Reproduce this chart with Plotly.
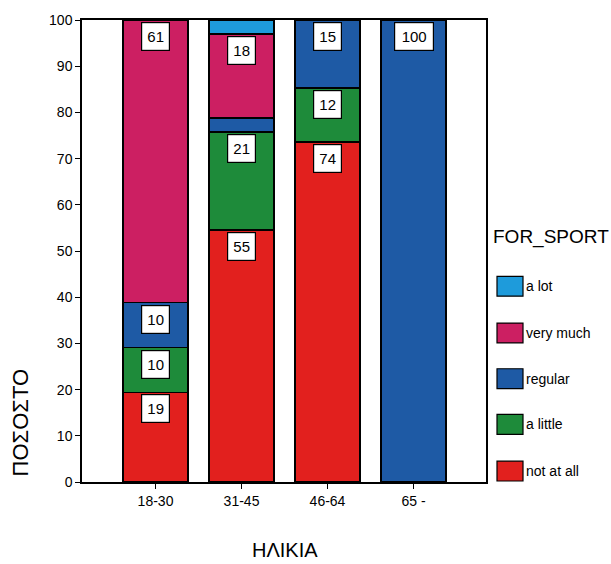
import plotly.graph_objects as go

categories = ["18-30", "31-45", "46-64", "65 -"]
series_names = ["not at all", "a little", "regular", "very much", "a lot"]
not_at_all = [19.4, 54.6, 73.6, 0]
a_little = [9.7, 21.2, 11.7, 0]
regular = [9.7, 3.0, 14.7, 100]
very_much = [61.2, 18.2, 0, 0]
a_lot = [0, 3.0, 0, 0]
series_values = [not_at_all, a_little, regular, very_much, a_lot]
colors = ["#E2201E", "#1E8B3A", "#1E5AA5", "#CC1F62", "#1E9BDB"]
y_ticks = [0, 10, 20, 30, 40, 50, 60, 70, 80, 90, 100]

FONT = "Liberation Sans, Arial, sans-serif"
W, H = 611, 564
ML, MR, MT, MB = 82, 125, 17, 82
PW, PH = W - ML - MR, H - MT - MB


def px_x(px):
    return (px - ML) / PW


def px_y(py):
    return (H - MB - py) / PH


fig = go.Figure()
for name, vals, col in zip(series_names, series_values, colors):
    fig.add_trace(go.Bar(
        x=categories, y=vals, name=name,
        marker=dict(color=col, line=dict(color="black", width=1.5)),
        hoverinfo="x+y+name",
    ))

annotations = []
# value labels in white boxes at top of each segment
cum = [0.0] * len(categories)
for vals in series_values:
    for i, v in enumerate(vals):
        cum[i] += v
        if v >= 5:
            txt = str(int(round(v)))
            annotations.append(dict(
                x=categories[i], y=cum[i], xref="x", yref="y",
                text=txt, showarrow=False, xanchor="center", yanchor="top",
                yshift=-2,
                font=dict(family=FONT, size=15, color="black"),
                bgcolor="white", bordercolor="black", borderwidth=1.2,
                borderpad=1, width=11 * len(txt) + 3, height=25,
            ))

# axis titles
annotations.append(dict(
    x=px_x(20), y=px_y(423), xref="paper", yref="paper",
    text="ΠΟΣΟΣΤΟ", textangle=-90, showarrow=False,
    xanchor="center", yanchor="middle",
    font=dict(family=FONT, size=22, color="black"),
))
annotations.append(dict(
    x=px_x(285), y=px_y(550), xref="paper", yref="paper",
    text="ΗΛΙΚΙΑ", showarrow=False, xanchor="center", yanchor="middle",
    font=dict(family=FONT, size=20, color="black"),
))

# legend (custom, larger swatches)
annotations.append(dict(
    x=px_x(491), y=px_y(235), xref="paper", yref="paper",
    text="FOR_SPORT", showarrow=False, xanchor="left", yanchor="middle",
    font=dict(family=FONT, size=19, color="black"),
))
shapes = []
legend_centers = [471, 424, 378, 332, 285]
for name, col, cy in zip(series_names, colors, legend_centers):
    shapes.append(dict(
        type="rect", xref="paper", yref="paper",
        x0=px_x(497), x1=px_x(523), y0=px_y(cy + 10), y1=px_y(cy - 10),
        fillcolor=col, line=dict(color="black", width=1.2),
    ))
    annotations.append(dict(
        x=px_x(524), y=px_y(cy), xref="paper", yref="paper",
        text=name, showarrow=False, xanchor="left", yanchor="middle",
        font=dict(family=FONT, size=14, color="black"),
    ))

fig.update_layout(
    width=W, height=H,
    margin=dict(l=ML, r=MR, t=MT, b=MB),
    barmode="stack", bargap=0.244,
    plot_bgcolor="white", paper_bgcolor="white",
    showlegend=False,
    font=dict(family=FONT, size=14, color="black"),
    annotations=annotations, shapes=shapes,
    xaxis=dict(
        type="category", range=[-0.855, 3.843],
        showline=True, linecolor="black", linewidth=1.5, mirror=True,
        ticks="outside", ticklen=5, tickcolor="black", tickwidth=1.2,
        showgrid=False, tickfont=dict(family=FONT, size=14, color="black"),
    ),
    yaxis=dict(
        range=[0, 100], tickvals=y_ticks,
        showline=True, linecolor="black", linewidth=1.5, mirror=True,
        ticks="outside", ticklen=5, tickcolor="black", tickwidth=1.2,
        showgrid=False, zeroline=False,
        tickfont=dict(family=FONT, size=14, color="black"),
    ),
)

fig.write_html(
    "out.html",
    config={"displayModeBar": False},
    post_script="document.body.style.margin='0px';document.body.style.overflow='hidden';",
)
